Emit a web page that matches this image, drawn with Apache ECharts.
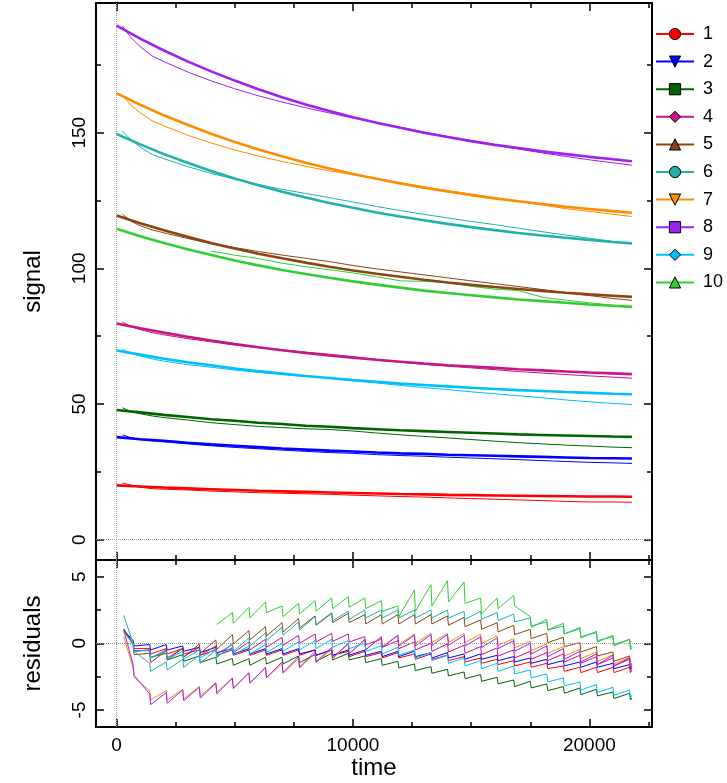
<!DOCTYPE html>
<html><head><meta charset="utf-8">
<script src="https://cdn.jsdelivr.net/npm/echarts@6/dist/echarts.min.js"></script>
<style>html,body{margin:0;padding:0;background:#fff}#c{width:727px;height:783px}</style>
</head><body><div id="c"></div>
<script>
// ---------- DATA ----------
const seriesNames = ['1','2','3','4','5','6','7','8','9','10'];
const seriesColors = ['#ff0000','#0000ff','#006400','#c71585','#8b4513','#20b2aa','#ff8c00','#a020f0','#00bfff','#32cd32'];
const seriesSymbols = ['circle','path://M0,0L10,0L5,9Z','rect','diamond','triangle','circle','path://M0,0L10,0L5,9Z','rect','diamond','triangle'];

const xMajorTicks = [0, 10000, 20000];
const xMinorTicks = [2500, 5000, 7500, 12500, 15000, 17500, 22500];
const signalMajorTicks = [0, 50, 100, 150];
const signalMinorTicks = [25, 75, 125, 175];
const residMajorTicks = [-5, 0, 5];
const residMinorTicks = [-2.5, 2.5];

// fitted curves (thick)
const fitTimes = [0,1000,2000,3000,4000,5000,6000,7000,8000,9000,10000,11000,12000,13000,14000,15000,16000,17000,18000,19000,20000,21000,21800];
const fit1  = [20.0,19.6,19.2,18.9,18.6,18.3,18.0,17.8,17.6,17.4,17.2,17.0,16.8,16.7,16.5,16.4,16.3,16.2,16.1,16.0,15.9,15.9,15.8];
const fit2  = [37.8,37.0,36.4,35.7,35.1,34.6,34.1,33.6,33.2,32.8,32.5,32.1,31.8,31.6,31.3,31.1,30.9,30.7,30.5,30.3,30.1,30.0,29.9];
const fit3  = [47.8,46.9,46.0,45.2,44.4,43.8,43.1,42.6,42.0,41.6,41.1,40.7,40.3,40.0,39.7,39.4,39.1,38.8,38.6,38.4,38.2,38.0,37.9];
const fit4  = [79.7,77.9,76.3,74.8,73.4,72.1,70.9,69.8,68.8,67.9,67.1,66.3,65.6,64.9,64.3,63.8,63.3,62.8,62.4,62.0,61.6,61.3,61.0];
const fit5  = [119.5,116.6,114.0,111.6,109.3,107.3,105.4,103.7,102.1,100.6,99.2,98.0,96.9,95.8,94.8,93.9,93.1,92.4,91.7,91.0,90.4,89.9,89.5];
const fit6  = [149.5,145.7,142.1,138.9,135.9,133.1,130.6,128.2,126.1,124.1,122.3,120.6,119.1,117.7,116.4,115.2,114.1,113.0,112.1,111.3,110.5,109.7,109.2];
const fit7  = [164.5,160.3,156.4,152.9,149.6,146.6,143.8,141.3,138.9,136.8,134.8,133.0,131.3,129.7,128.3,127.0,125.8,124.7,123.7,122.7,121.9,121.1,120.5];
const fit8  = [189.5,184.7,180.3,176.3,172.6,169.2,166.0,163.1,160.4,158.0,155.7,153.7,151.8,150.0,148.4,146.9,145.5,144.3,143.1,142.1,141.1,140.2,139.5];
const fit9  = [69.7,68.2,66.7,65.4,64.3,63.1,62.1,61.2,60.3,59.6,58.8,58.2,57.5,57.0,56.5,56.0,55.5,55.1,54.8,54.4,54.1,53.8,53.6];
const fit10 = [114.6,111.8,109.3,107.0,104.9,102.9,101.1,99.4,97.9,96.5,95.2,94.0,92.9,91.8,90.9,90.1,89.3,88.5,87.9,87.3,86.7,86.2,85.8];

// measured signal (thin)
const dataTimes = [250,600,1000,1500,2000,3000,4000,5000,6000,7000,8000,9000,10000,11000,12000,13000,14000,15000,16000,17000,18000,19000,20000,21000,21800];
const data1  = [20.9,20.1,19.3,18.8,18.6,18.3,17.9,17.6,17.3,17.1,16.9,16.7,16.4,16.15,15.9,15.7,15.4,15.15,14.9,14.65,14.4,14.1,13.9,13.9,13.8];
const data2  = [38.6,37.6,36.9,36.4,36.1,35.3,34.6,34.0,33.5,33.0,32.55,32.1,31.8,31.35,31.0,30.75,30.4,30.1,29.8,29.5,29.15,28.8,28.5,28.3,28.1];
const data3  = [48.6,47.2,46.4,45.6,45.0,44.1,43.1,42.4,41.75,41.3,40.85,40.6,40.05,39.3,38.65,38.05,37.5,36.9,36.3,35.75,35.3,34.85,34.5,34.1,33.9];
const data4  = [80.2,78.6,77.4,76.3,75.5,74.1,72.9,71.7,70.8,69.95,69.15,68.35,67.4,66.35,65.45,64.6,63.95,63.3,62.65,61.95,61.4,60.85,60.35,59.9,59.5];
const data5  = [119.9,117.45,115.7,114.2,113.1,111.0,109.1,107.65,106.2,104.9,103.7,102.5,101.05,99.8,98.7,97.6,96.5,95.4,94.35,93.3,92.2,91.0,89.95,88.9,88.2];
const data6  = [150.6,147.5,144.7,142.0,140.4,137.5,135.0,132.85,130.9,129.1,127.6,126.05,124.45,122.8,121.3,119.9,118.6,117.3,116.1,114.8,113.5,112.3,111.1,109.9,109.2];
const data7  = [163.9,160.1,157.3,154.4,152.5,149.1,146.2,143.65,141.4,139.4,137.6,135.95,134.5,133.05,131.6,130.1,128.7,127.4,126.0,124.6,123.35,122.0,121.0,119.9,119.1];
const data8  = [189.3,185.1,181.7,178.3,176.2,172.4,169.1,166.2,163.6,161.3,159.2,157.3,155.4,153.7,152.0,150.25,148.65,147.05,145.5,144.0,142.55,141.25,140.0,138.9,138.0];
const data9  = [70.1,68.8,67.7,66.6,65.8,64.5,63.55,62.5,61.65,60.9,60.15,59.6,58.6,57.75,56.85,56.05,55.3,54.5,53.75,53.05,52.3,51.5,50.8,50.2,49.8];
const data10 = [null,null,null,null,null,null,106.4,104.85,103.6,101.9,100.6,99.5,98.3,96.9,95.4,95.2,94.8,93.4,92.3,91.8,89.4,88.3,87.3,86.4,85.6];

// residuals
const resTimes = [300,700,740,1400,1440,2100,2140,2800,2840,3500,3540,4200,4240,4900,4940,5600,5640,6300,6340,7000,7040,7700,7740,8400,8440,9100,9140,9800,9840,10500,10540,11200,11240,11900,11940,12600,12640,13300,13340,14000,14040,14700,14740,15400,15440,16100,16140,16800,16840,17500,17540,18200,18240,18900,18940,19600,19640,20300,20340,21000,21040,21700,21740,21800];
const res1  = [1.0, 0.0,-0.4, -0.4,-0.8, -0.4,-0.8, -0.4,-0.8, -0.5,-0.9, -0.5,-0.9, -0.5,-0.9, -0.5,-0.9, -0.5,-0.9, -0.5,-0.9, -0.5,-0.9, -0.5,-0.9, -0.5,-0.9, -0.6,-1.0, -0.6,-1.0, -0.7,-1.1, -0.7,-1.1, -0.8,-1.2, -0.8,-1.2, -0.9,-1.3, -1.0,-1.4, -1.1,-1.5, -1.2,-1.6, -1.3,-1.7, -1.4,-1.8, -1.5,-1.9, -1.7,-2.1, -1.8,-2.2, -1.8,-2.2, -1.8,-2.2, -1.8,-2.2, -2.0];
const res2  = [1.0, 0.2,-0.2, -0.1,-0.5, -0.1,-0.5, -0.2,-0.6, -0.3,-0.7, -0.3,-0.7, -0.4,-0.8, -0.4,-0.8, -0.4,-0.8, -0.4,-0.8, -0.4,-0.8, -0.5,-0.9, -0.5,-0.9, -0.5,-0.9, -0.5,-0.9, -0.6,-1.0, -0.6,-1.0, -0.6,-1.0, -0.7,-1.1, -0.7,-1.1, -0.8,-1.2, -0.8,-1.2, -0.9,-1.3, -1.0,-1.4, -1.1,-1.5, -1.2,-1.6, -1.3,-1.7, -1.4,-1.8, -1.4,-1.8, -1.5,-1.9, -1.6,-2.0, -1.8];
const res3  = [1.0, -0.05,-0.55, -0.55,-1.05, -0.75,-1.25, -0.85,-1.35, -0.95,-1.45, -1.05,-1.55, -1.15,-1.65, -1.15,-1.65, -1.05,-1.55, -1.05,-1.55, -0.95,-1.45, -0.85,-1.35, -0.75,-1.25, -0.75,-1.25, -0.95,-1.45, -1.15,-1.65, -1.35,-1.85, -1.55,-2.05, -1.75,-2.25, -1.95,-2.45, -2.15,-2.65, -2.35,-2.85, -2.55,-3.05, -2.75,-3.25, -2.85,-3.35, -3.05,-3.55, -3.25,-3.75, -3.35,-3.85, -3.45,-3.95, -3.65,-4.15, -3.75,-4.25, -4.1];
const res4  = [1.0, 0.0,-0.6, -0.5,-1.1, -0.5,-1.1, -0.4,-1.0, -0.3,-0.9, -0.2,-0.8, -0.1,-0.7, 0.1,-0.5, 0.3,-0.3, 0.45,-0.15, 0.6,0.0, 0.7,0.1, 0.75,0.15, 0.7,0.1, 0.5,-0.1, 0.3,-0.3, 0.2,-0.4, 0.1,-0.5, 0.0,-0.6, -0.05,-0.65, -0.15,-0.75, -0.25,-0.85, -0.35,-0.95, -0.5,-1.1, -0.6,-1.2, -0.7,-1.3, -0.8,-1.4, -0.9,-1.5, -1.0,-1.6, -1.1,-1.7, -1.2,-1.8, -1.6];
const res5  = [1.1, -0.15,-0.85, -0.75,-1.45, -0.55,-1.25, -0.35,-1.05, -0.05,-0.75, 0.25,-0.45, 0.65,-0.05, 0.95,0.25, 1.25,0.55, 1.55,0.85, 1.85,1.15, 2.05,1.35, 2.25,1.55, 2.25,1.55, 2.15,1.45, 2.15,1.45, 2.15,1.45, 2.15,1.45, 2.15,1.45, 2.05,1.35, 1.95,1.25, 1.75,1.05, 1.55,0.85, 1.35,0.65, 1.05,0.35, 0.75,0.05, 0.45,-0.25, 0.05,-0.65, -0.25,-0.95, -0.65,-1.35, -0.95,-1.65, -1.5];
const res6  = [2.1, 0.0,-0.6, -1.5,-2.1, -1.4,-2.0, -1.2,-1.8, -0.9,-1.5, -0.5,-1.1, 0.0,-0.6, 0.4,-0.2, 0.8,0.2, 1.2,0.6, 1.6,1.0, 2.0,1.4, 2.3,1.7, 2.4,1.8, 2.5,1.9, 2.5,1.9, 2.5,1.9, 2.5,1.9, 2.5,1.9, 2.5,1.9, 2.4,1.8, 2.4,1.8, 2.3,1.7, 2.2,1.6, 1.9,1.3, 1.6,1.0, 1.3,0.7, 1.1,0.5, 0.8,0.2, 0.5,-0.1, 0.3,-0.3, -0.2];
const res7  = [0.5, -1.85,-2.55, -3.55,-4.25, -3.55,-4.25, -3.45,-4.15, -3.25,-3.95, -2.95,-3.65, -2.65,-3.35, -2.25,-2.95, -1.85,-2.55, -1.55,-2.25, -1.15,-1.85, -0.75,-1.45, -0.45,-1.15, -0.05,-0.75, 0.25,-0.45, 0.45,-0.25, 0.6,-0.1, 0.7,0.0, 0.75,0.05, 0.75,0.05, 0.75,0.05, 0.7,0.0, 0.55,-0.15, 0.35,-0.35, 0.15,-0.55, -0.05,-0.75, -0.25,-0.95, -0.45,-1.15, -0.65,-1.35, -0.85,-1.55, -1.05,-1.75, -1.6];
const res8  = [1.0, -1.6,-2.4, -3.8,-4.6, -3.7,-4.5, -3.5,-4.3, -3.3,-4.1, -3.0,-3.8, -2.6,-3.4, -2.2,-3.0, -1.8,-2.6, -1.4,-2.2, -1.0,-1.8, -0.6,-1.4, -0.3,-1.1, 0.0,-0.8, 0.3,-0.5, 0.5,-0.3, 0.6,-0.2, 0.6,-0.2, 0.65,-0.15, 0.65,-0.15, 0.6,-0.2, 0.5,-0.3, 0.4,-0.4, 0.2,-0.6, 0.0,-0.8, -0.2,-1.0, -0.4,-1.2, -0.6,-1.4, -0.8,-1.6, -0.9,-1.7, -1.1,-1.9, -1.7];
const res9  = [0.8, 0.0,-0.6, -0.5,-1.1, -0.6,-1.2, -0.6,-1.2, -0.5,-1.1, -0.4,-1.0, -0.3,-0.9, -0.2,-0.8, -0.1,-0.7, 0.0,-0.6, 0.1,-0.5, 0.2,-0.4, 0.3,-0.3, 0.2,-0.4, 0.0,-0.6, -0.2,-0.8, -0.3,-0.9, -0.5,-1.1, -0.7,-1.3, -0.9,-1.5, -1.1,-1.7, -1.3,-1.9, -1.5,-2.1, -1.7,-2.3, -2.0,-2.6, -2.3,-2.9, -2.6,-3.2, -2.9,-3.5, -3.1,-3.7, -3.3,-3.9, -3.5,-4.1, -3.9];
const res10 = [null, null,null, null,null, null,null, null,null, null,null, null,1.4, 2.3,1.5, 2.7,1.9, 3.1,2.3, 2.8,2.0, 3.0,2.2, 3.2,2.4, 3.4,2.6, 3.5,2.7, 3.4,2.6, 3.2,2.4, 2.8,2.0, 4.0,2.4, 4.4,2.8, 4.7,3.1, 4.6,3.0, 3.4,2.2, 3.4,2.6, 3.6,2.8, 2.0,1.2, 1.8,1.0, 1.5,0.7, 1.2,0.4, 0.9,0.1, 0.6,-0.2, 0.3,-0.5, -0.3];

const fits = [fit1,fit2,fit3,fit4,fit5,fit6,fit7,fit8,fit9,fit10];
const datas = [data1,data2,data3,data4,data5,data6,data7,data8,data9,data10];
const resids = [res1,res2,res3,res4,res5,res6,res7,res8,res9,res10];

// ---------- CHART ----------
const FONT = "'Liberation Sans', Arial, Helvetica, sans-serif";
const X0 = -870, X1 = 22650;
const S0 = -7.5, S1 = 197.8;
const R0 = -6.28, R1 = 6.25;

function pairs(ts, vs) {
  const out = [];
  for (let i = 0; i < Math.min(ts.length, vs.length); i++) {
    if (vs[i] !== null && vs[i] !== undefined) out.push([ts[i], vs[i]]);
  }
  return out;
}

function axis(grid, pos, mn, mx, vals, len, opts) {
  opts = opts || {};
  return {
    type: 'value', gridIndex: grid, position: pos, min: mn, max: mx, scale: true,
    axisLine: {show: !!opts.line, onZero: false, lineStyle: {color: '#000', width: 2}},
    axisTick: {show: true, inside: true, length: len, customValues: vals, lineStyle: {color: '#000', width: 1.5}},
    axisLabel: {show: !!opts.label, customValues: vals, color: '#000', fontSize: 19, fontFamily: FONT,
                margin: opts.margin || 8, rotate: opts.rotate || 0,
                formatter: function (v) { return String(v); }},
    splitLine: {show: false},
    name: opts.name || '', nameLocation: 'middle', nameGap: opts.nameGap || 30,
    nameTextStyle: {color: '#000', fontSize: 24, fontFamily: FONT}
  };
}

const xAxes = [
  axis(0, 'bottom', X0, X1, xMajorTicks, 8, {line: true}),
  axis(0, 'bottom', X0, X1, xMinorTicks, 5, {}),
  axis(0, 'top', X0, X1, xMajorTicks, 8, {line: true}),
  axis(0, 'top', X0, X1, xMinorTicks, 5, {}),
  axis(1, 'bottom', X0, X1, xMajorTicks, 8, {line: true, label: true, margin: 9, name: 'time', nameGap: 29}),
  axis(1, 'bottom', X0, X1, xMinorTicks, 5, {}),
  axis(1, 'top', X0, X1, xMajorTicks, 8, {line: true}),
  axis(1, 'top', X0, X1, xMinorTicks, 5, {})
];
const yAxes = [
  axis(0, 'left', S0, S1, signalMajorTicks, 8, {line: true, label: true, rotate: 90, margin: 7, name: 'signal', nameGap: 51}),
  axis(0, 'left', S0, S1, signalMinorTicks, 5, {}),
  axis(0, 'right', S0, S1, signalMajorTicks, 8, {line: true}),
  axis(0, 'right', S0, S1, signalMinorTicks, 5, {}),
  axis(1, 'left', R0, R1, residMajorTicks, 8, {line: true, label: true, rotate: 90, margin: 7, name: 'residuals', nameGap: 51}),
  axis(1, 'left', R0, R1, residMinorTicks, 5, {}),
  axis(1, 'right', R0, R1, residMajorTicks, 8, {line: true}),
  axis(1, 'right', R0, R1, residMinorTicks, 5, {})
];

const zeroMark = {
  silent: true, symbol: 'none', animation: false, label: {show: false},
  lineStyle: {type: 'dotted', color: '#9a9a9a', width: 1},
  emphasis: {disabled: true},
  data: [{xAxis: 0}, {yAxis: 0}]
};

const series = [];
for (let i = 0; i < seriesNames.length; i++) {
  const c = seriesColors[i];
  series.push({
    name: seriesNames[i], type: 'line', xAxisIndex: 0, yAxisIndex: 0,
    data: pairs(fitTimes, fits[i]), smooth: false, symbol: seriesSymbols[i], showSymbol: false, symbolSize: 11,
    color: c, lineStyle: {color: c, width: 2.6}, itemStyle: {color: c, borderColor: '#000', borderWidth: 1},
    z: 3, silent: true, animation: false, emphasis: {disabled: true},
    markLine: i === 0 ? zeroMark : undefined
  });
}
for (let i = 0; i < seriesNames.length; i++) {
  const c = seriesColors[i];
  series.push({
    name: seriesNames[i], type: 'line', xAxisIndex: 0, yAxisIndex: 0,
    data: pairs(dataTimes, datas[i]), symbol: 'none', color: c,
    lineStyle: {color: c, width: 1}, z: 2, silent: true, animation: false, emphasis: {disabled: true}
  });
}
for (let i = 0; i < seriesNames.length; i++) {
  const c = seriesColors[i];
  series.push({
    name: seriesNames[i], type: 'line', xAxisIndex: 4, yAxisIndex: 4,
    data: pairs(resTimes, resids[i]), symbol: 'none', color: c,
    lineStyle: {color: c, width: 1}, z: 2, silent: true, animation: false, emphasis: {disabled: true},
    markLine: i === 0 ? zeroMark : undefined
  });
}

const option = {
  backgroundColor: '#fff',
  animation: false,
  grid: [
    {left: 96, top: 3, width: 556, height: 557},
    {left: 96, top: 560, width: 556, height: 167}
  ],
  xAxis: xAxes,
  yAxis: yAxes,
  legend: {
    data: seriesNames, orient: 'vertical', left: 655, top: 25,
    itemWidth: 38, itemHeight: 14, itemGap: 9.6, padding: 0, selectedMode: false,
    textStyle: {color: '#000', fontSize: 18, fontFamily: FONT, padding: [0, 0, 0, 4]},
    itemStyle: {borderColor: '#000', borderWidth: 1},
    lineStyle: {width: 2}
  },
  series: series
};

const chart = echarts.init(document.getElementById('c'), null, {renderer: 'canvas', width: 727, height: 783});
chart.setOption(option);
</script>
</body></html>
